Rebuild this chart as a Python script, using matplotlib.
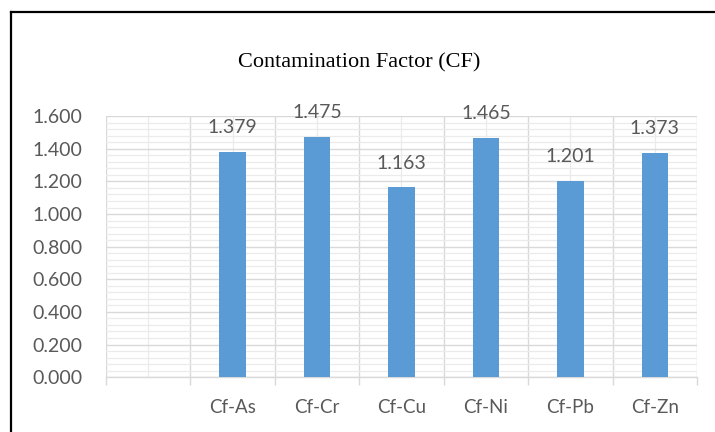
import matplotlib
matplotlib.use("Agg")
import matplotlib.pyplot as plt
from matplotlib.lines import Line2D
from matplotlib.ticker import MultipleLocator, FixedLocator

# Contamination factor per metal (first category slot is left blank)
categories = ["", "Cf-As", "Cf-Cr", "Cf-Cu", "Cf-Ni", "Cf-Pb", "Cf-Zn"]
cf_values = [None, 1.379, 1.475, 1.163, 1.465, 1.201, 1.373]
y_ticks = [0.0, 0.2, 0.4, 0.6, 0.8, 1.0, 1.2, 1.4, 1.6]

TEXT = "#595959"
BAR = "#5B9BD5"

fig = plt.figure(figsize=(7.15, 4.32), dpi=100)
ax = fig.add_axes([0.148, 0.127, 0.827, 0.604])

xs = list(range(len(categories)))
bar_x = [x for x, v in zip(xs, cf_values) if v is not None]
bar_v = [v for v in cf_values if v is not None]
ax.bar(bar_x, bar_v, width=0.31, color=BAR, zorder=3)

for x, v in zip(bar_x, bar_v):
    ax.annotate(f"{v:.3f}", (x, v), xytext=(0, 17.5), textcoords="offset points",
                ha="center", va="center", fontsize=14, color=TEXT,
                family="Lato", zorder=4)

ax.set_xlim(-0.5, len(categories) - 0.5)
ax.set_ylim(0, 1.6)

# y axis: major every 0.2, minor every 0.04
ax.yaxis.set_major_locator(FixedLocator(y_ticks))
ax.yaxis.set_minor_locator(MultipleLocator(0.04))
ax.set_yticklabels([f"{t:.3f}" for t in y_ticks])

# x axis: boundaries between categories carry the major grid, centres the minor
bounds = [i - 0.5 for i in range(len(categories) + 1)]
ax.xaxis.set_major_locator(FixedLocator(bounds))
ax.xaxis.set_minor_locator(FixedLocator(xs))
ax.set_xticklabels([])
ax.set_xticks(xs, minor=True)
ax.set_xticklabels(categories, minor=True)

ax.grid(which="major", color="#D9D9D9", linewidth=1.0, zorder=0)
ax.grid(which="minor", color="#EBEBEB", linewidth=0.9, zorder=0)
ax.set_axisbelow(True)

for s in ["top", "right", "left"]:
    ax.spines[s].set_visible(False)
ax.spines["bottom"].set_color("#D9D9D9")
ax.spines["bottom"].set_linewidth(1.0)

ax.tick_params(axis="y", which="both", length=0, pad=17, labelsize=14,
               labelcolor=TEXT)
ax.tick_params(axis="x", which="major", length=6, color="#D9D9D9", width=1.0)
ax.tick_params(axis="x", which="minor", length=0, pad=16, labelsize=13.5,
               labelcolor=TEXT)
for lab in ax.get_yticklabels() + ax.get_xticklabels(minor=True):
    lab.set_family("Lato")

fig.text(0.503, 0.854, "Contamination Factor (CF)", ha="center", va="center",
         fontsize=16, family="Liberation Serif", color="black")

# outer frame on the left and top edges
fig.add_artist(Line2D([11 / 715, 11 / 715], [0, 1 - 12 / 432],
                      transform=fig.transFigure, color="black", lw=1.6))
fig.add_artist(Line2D([11 / 715, 1], [1 - 12 / 432, 1 - 12 / 432],
                      transform=fig.transFigure, color="black", lw=1.6))

fig.savefig("out.png", dpi=100)
